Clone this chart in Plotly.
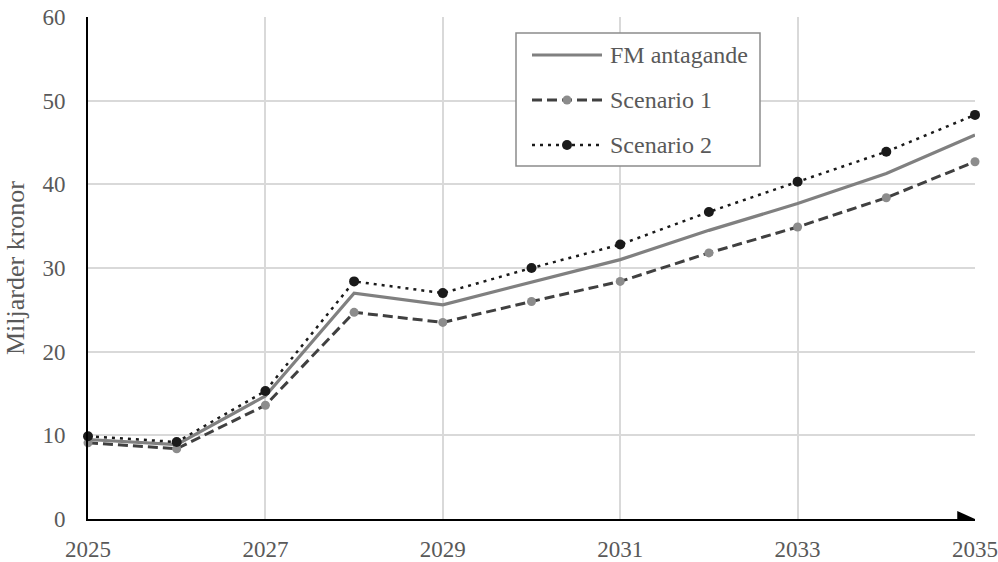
import plotly.graph_objects as go

years = [2025, 2026, 2027, 2028, 2029, 2030, 2031, 2032, 2033, 2034, 2035]
fm_antagande = [9.5, 8.9, 14.7, 27.0, 25.6, 28.3, 31.0, 34.5, 37.7, 41.3, 45.9]
scenario_1 = [9.1, 8.4, 13.6, 24.7, 23.5, 26.0, 28.4, 31.8, 34.9, 38.4, 42.7]
scenario_2 = [9.9, 9.2, 15.3, 28.4, 27.0, 30.0, 32.8, 36.7, 40.3, 43.9, 48.3]
series_names = ["FM antagande", "Scenario 1", "Scenario 2"]
x_ticks = [2025, 2027, 2029, 2031, 2033, 2035]
y_ticks = [0, 10, 20, 30, 40, 50, 60]

FONT = "Liberation Serif, Times New Roman, serif"
TXT = "#595959"

styles = [
    dict(mode="lines", line=dict(color="#808080", width=3.2), marker=None),
    dict(mode="lines+markers", line=dict(color="#404040", width=3, dash="10px,5px"),
         marker=dict(color="#8c8c8c", size=9)),
    dict(mode="lines+markers", line=dict(color="#1a1a1a", width=2.5, dash="3px,5px"),
         marker=dict(color="#1a1a1a", size=10)),
]
series = [fm_antagande, scenario_1, scenario_2]

fig = go.Figure()
for name, vals, st in zip(series_names, series, styles):
    kw = dict(x=years, y=vals, name=name, mode=st["mode"], line=st["line"],
              cliponaxis=False, showlegend=False)
    if st["marker"]:
        kw["marker"] = st["marker"]
    fig.add_trace(go.Scatter(**kw))

# arrowhead at the end of the x axis
fig.add_shape(type="path", xref="x", yref="y",
              path="M 2035 0 L 2034.8 0.96 L 2034.8 -0.96 Z",
              fillcolor="black", line=dict(color="black", width=0), layer="above")

# custom legend (box, line samples, markers, labels)
L, R, T, B = 88, 975, 17, 519
px = lambda v: (v - L) / (R - L)
py = lambda v: (B - v) / (B - T)
fig.add_shape(type="rect", xref="paper", yref="paper",
              x0=px(516), x1=px(760), y0=py(166), y1=py(33),
              fillcolor="white", line=dict(color="#8c8c8c", width=1.5), layer="above")
rows = [55, 100, 145]
for name, st, ry in zip(series_names, styles, rows):
    fig.add_shape(type="line", xref="paper", yref="paper",
                  x0=px(532), x1=px(602), y0=py(ry), y1=py(ry),
                  line=st["line"], layer="above")
    if st["marker"]:
        r = st["marker"]["size"] / 2
        fig.add_shape(type="circle", xref="paper", yref="paper",
                      xsizemode="pixel", ysizemode="pixel",
                      xanchor=px(567), yanchor=py(ry),
                      x0=-r, x1=r, y0=-r, y1=r,
                      fillcolor=st["marker"]["color"], line=dict(width=0), layer="above")
    fig.add_annotation(xref="paper", yref="paper", x=px(608), y=py(ry),
                       xanchor="left", yanchor="middle", showarrow=False,
                       text=name, font=dict(family=FONT, size=24, color=TXT))

fig.update_layout(
    width=998, height=562,
    margin=dict(l=L, r=998 - R, t=T, b=562 - B),
    paper_bgcolor="white", plot_bgcolor="white",
    font=dict(family=FONT, size=23, color=TXT),
    showlegend=False,
    xaxis=dict(range=[2025, 2035], tickvals=x_ticks, ticktext=[str(v) for v in x_ticks],
               showgrid=True, gridcolor="#d9d9d9", gridwidth=2,
               showline=True, linecolor="black", linewidth=2,
               ticks="", zeroline=False, ticklabelstandoff=8, automargin=False,
               tickfont=dict(family=FONT, size=23, color=TXT)),
    yaxis=dict(range=[0, 60], tickvals=y_ticks,
               showgrid=True, gridcolor="#d9d9d9", gridwidth=2,
               showline=True, linecolor="black", linewidth=2,
               ticks="", zeroline=False, ticklabelstandoff=16, automargin=False,
               tickfont=dict(family=FONT, size=23, color=TXT),
               title=dict(text="Miljarder kronor", font=dict(family=FONT, size=26, color=TXT), standoff=10)),
)

fig.write_html("out.html", config={"displayModeBar": False},
               post_script="document.body.style.margin='0';")
